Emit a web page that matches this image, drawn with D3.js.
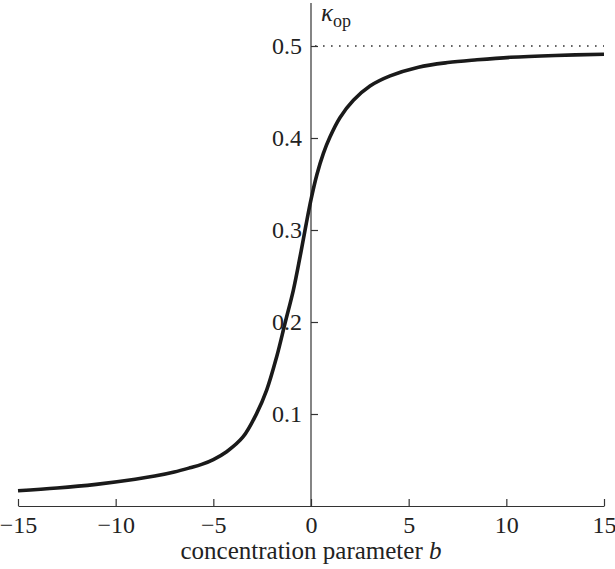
<!DOCTYPE html>
<html><head><meta charset="utf-8">
<script src="https://cdn.jsdelivr.net/npm/d3@7"></script>
<style>
body{margin:0;background:#fff}
svg text{font-family:"Liberation Serif","DejaVu Serif",serif;fill:#222}
</style></head>
<body>
<svg id="c" width="615" height="569"></svg>
<script>
const bValues = [-15, -13, -11, -9, -8, -7, -6.2, -5.6, -5, -4.32, -3.47, -2.78, -2.27, -1.76, -1.33, -0.9, -0.56, -0.26, 0, 0.3, 0.63, 0.97, 1.48, 2.17, 3.02, 4.05, 5.5, 7, 8.5, 10.2, 12.5, 15];
const kappaValues = [0.0166, 0.0195, 0.0235, 0.0290, 0.0325, 0.0370, 0.0415, 0.0452, 0.0505, 0.0590, 0.0753, 0.1007, 0.126, 0.162, 0.1986, 0.235, 0.271, 0.305, 0.333, 0.360, 0.383, 0.401, 0.422, 0.441, 0.4565, 0.4675, 0.4770, 0.4820, 0.4850, 0.4877, 0.4897, 0.491];
const xTicks = [-15, -10, -5, 0, 5, 10, 15];
const yTicks = [0.1, 0.2, 0.3, 0.4, 0.5];
const asymptote = 0.5;
const xTitle = "concentration parameter ";
const xTitleVar = "b";

const FONT = "Liberation Serif, DejaVu Serif, serif";
const svg = d3.select("#c");
const x = d3.scaleLinear().domain([-15, 15]).range([18, 604]);
const y = d3.scaleLinear().domain([0, 0.5]).range([506, 46]);
const axisColor = "#333";

// x axis
const xAxis = svg.append("g").attr("transform", `translate(0,${y(0)})`)
  .call(d3.axisBottom(x).tickValues(xTicks).tickSizeInner(-7).tickSizeOuter(0).tickPadding(10)
    .tickFormat(d => d < 0 ? "\u2212" + Math.abs(d) : String(d)));
xAxis.attr("font-family", FONT);
xAxis.select(".domain").attr("stroke", axisColor).attr("stroke-width", 1.2);
xAxis.selectAll(".tick line").attr("stroke", axisColor).attr("stroke-width", 1.2);
xAxis.selectAll(".tick text").attr("font-size", 24).attr("fill", "#222");

// y axis at x=0
const yAxis = svg.append("g").attr("transform", `translate(${x(0)},0)`)
  .call(d3.axisLeft(y).tickValues(yTicks).tickSizeInner(-7).tickSizeOuter(0).tickPadding(9)
    .tickFormat(d3.format(".1f")));
yAxis.attr("font-family", FONT);
yAxis.select(".domain").remove();
yAxis.append("line").attr("x1", 0).attr("x2", 0).attr("y1", 3).attr("y2", y(0))
  .attr("stroke", axisColor).attr("stroke-width", 1.2);
yAxis.selectAll(".tick line").attr("stroke", axisColor).attr("stroke-width", 1.2);
yAxis.selectAll(".tick text").attr("font-size", 24).attr("fill", "#222");

// dotted asymptote
svg.append("line").attr("x1", x(0) + 4).attr("x2", x(15))
  .attr("y1", y(asymptote)).attr("y2", y(asymptote))
  .attr("stroke", "#333").attr("stroke-width", 1.6).attr("stroke-dasharray", "1.6 6.4");

// curve
const pts = bValues.map((b, i) => [b, kappaValues[i]]);
svg.append("path").datum(pts)
  .attr("fill", "none").attr("stroke", "#1a1a1a").attr("stroke-width", 3.6)
  .attr("d", d3.line().x(d => x(d[0])).y(d => y(d[1])).curve(d3.curveCatmullRom.alpha(0.5)));

// y label
const yl = svg.append("text").attr("x", x(0) + 10).attr("y", 21).attr("font-size", 25);
yl.append("tspan").attr("font-style", "italic").text("\u03ba");
yl.append("tspan").attr("font-size", 18).attr("dy", 6).text("op");

// x title
const xt = svg.append("text").attr("x", 311).attr("y", 559).attr("text-anchor", "middle").attr("font-size", 25);
xt.append("tspan").text(xTitle);
xt.append("tspan").attr("font-style", "italic").text(xTitleVar);
</script>
</body></html>
